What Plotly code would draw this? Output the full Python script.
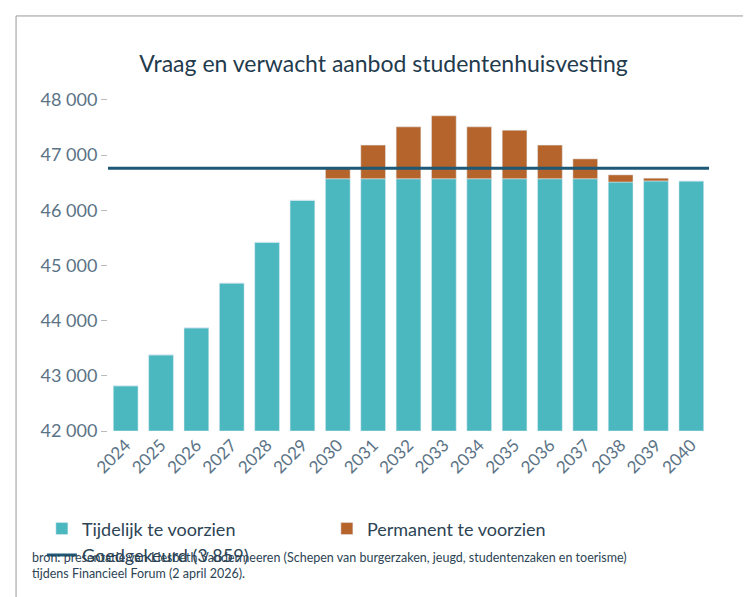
import plotly.graph_objects as go

# values
jaren = [str(j) for j in range(2024, 2041)]
tijdelijk = [42820, 43380, 43870, 44680, 45420, 46180, 46570, 46570, 46570, 46570,
             46570, 46570, 46570, 46570, 46510, 46530, 46530]
totaal = [42820, 43380, 43870, 44680, 45420, 46180, 46760, 47180, 47510, 47710,
          47510, 47450, 47180, 46930, 46640, 46580, 46530]
goedgekeurd = 46760

permanent = [t - v for t, v in zip(totaal, tijdelijk)]

fig = go.Figure()
fig.add_bar(x=jaren, y=[v - 42000 for v in tijdelijk], base=42000, name="Tijdelijk te voorzien",
            marker_color="#4bb8c0")
fig.add_bar(x=jaren, y=permanent, base=tijdelijk, name="Permanent te voorzien",
            marker_color="#b5652c")
fig.add_scatter(x=[None], y=[None], mode="lines", name="Goedgekeurd (3 859)",
                line=dict(color="#1d5876", width=3))
fig.add_shape(type="line", xref="x domain", yref="y", x0=0, x1=1,
              y0=goedgekeurd, y1=goedgekeurd, line=dict(color="#1d5876", width=3))
fig.add_shape(type="rect", xref="paper", yref="paper", x0=-0.153, x1=1.068, y0=-0.484, y1=1.203,
              line=dict(color="#999999", width=1))  # frame round the picture

fig.update_layout(
    width=751, height=597,
    barmode="overlay", bargap=0.3,
    paper_bgcolor="white", plot_bgcolor="white",
    font=dict(family="Lato", color="#5b7386", size=17),
    separators=", ",
    title=dict(text="Vraag en verwacht aanbod studentenhuisvesting", x=0.5, y=0.92,
               font=dict(size=23, color="#1f3b4d")),
    margin=dict(l=100, r=50, t=78, b=174),
    legend=dict(orientation="h", x=-0.11, y=-0.23, xanchor="left", yanchor="top",
                font=dict(size=18, color="#2c4455"), traceorder="normal", entrywidth=240),
    showlegend=True,
    annotations=[dict(text="bron: presentatie van Liesbeth Vandermeeren (Schepen van burgerzaken, jeugd, studentenzaken en toerisme)<br>tijdens Financieel Forum (2 april 2026).",
                      xref="paper", yref="paper", x=-0.13, y=-0.34, xanchor="left", yanchor="top",
                      align="left", showarrow=False, font=dict(size=12.5, color="#2c4455"))],
)
fig.update_xaxes(tickangle=-45, showline=False, ticks="", tickfont=dict(size=17))
fig.update_yaxes(range=[42000, 48250], tickvals=list(range(42000, 48001, 1000)), tickformat=",d",
                 showgrid=False, ticks="outside", ticklen=6, tickcolor="#bbbbbb",
                 tickfont=dict(size=18), zeroline=False)

fig.write_html("out.html")
